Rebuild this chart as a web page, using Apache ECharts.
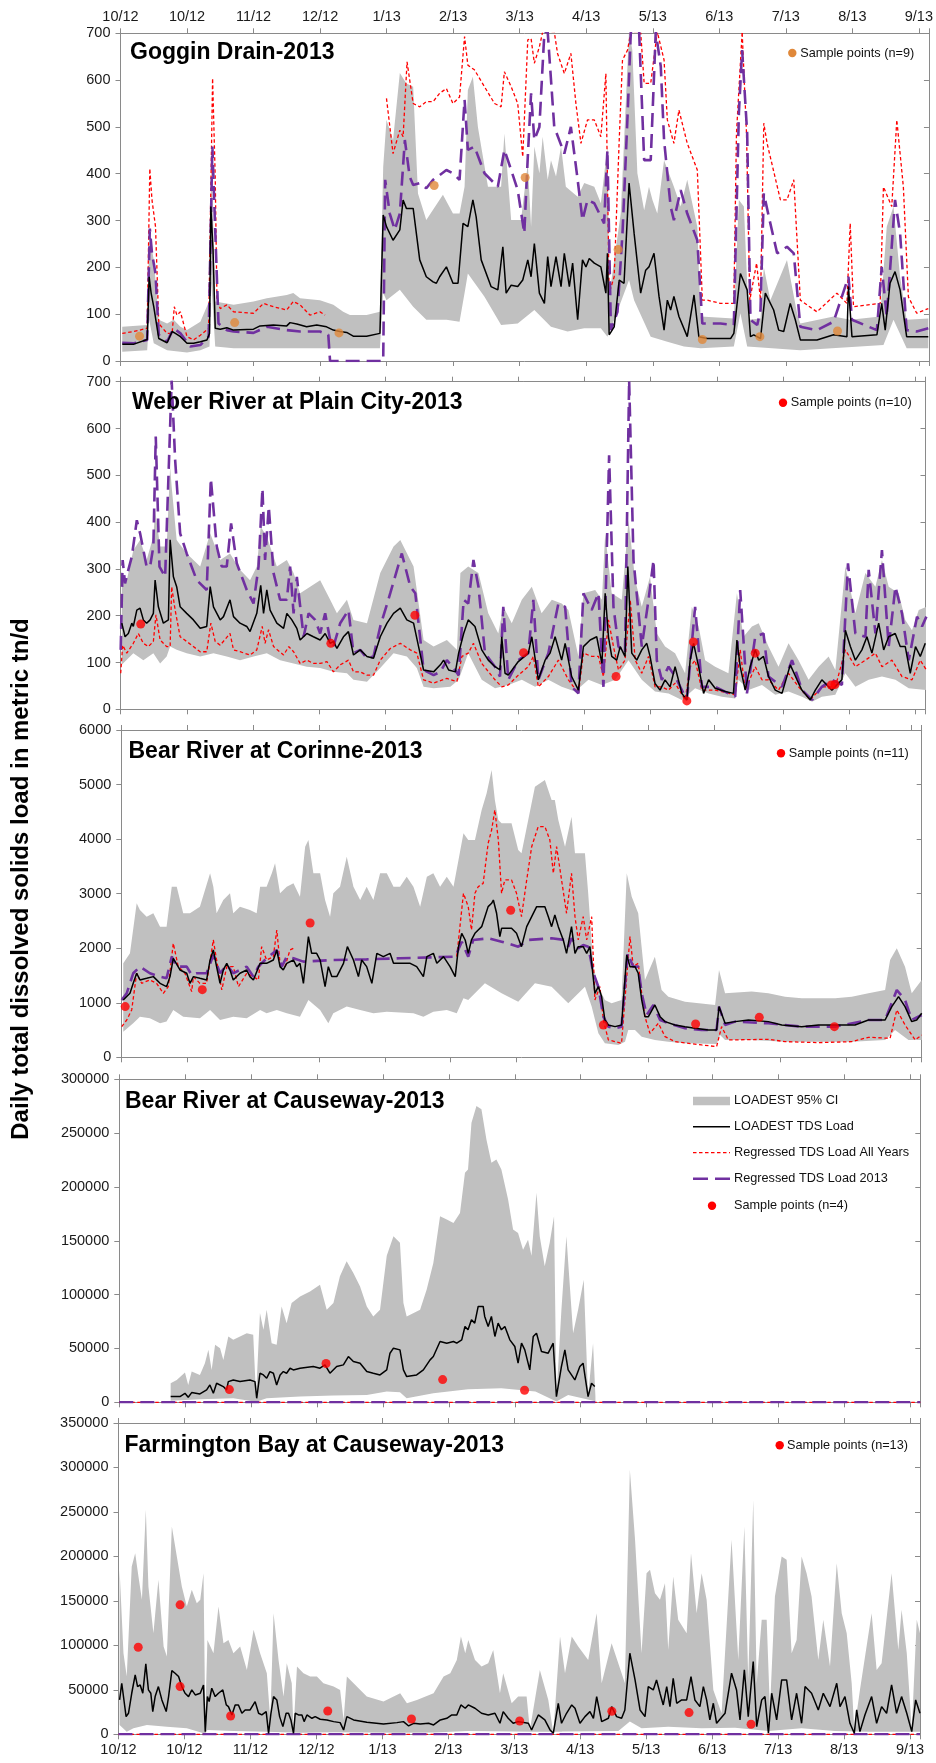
<!DOCTYPE html>
<html><head><meta charset="utf-8">
<script src="https://cdn.jsdelivr.net/npm/echarts@6/dist/echarts.min.js"></script>
<style>html,body{margin:0;padding:0;background:#fff}#chart{width:936px;height:1763px}</style>
</head><body><div id="chart"></div><script>
// ---------- tick labels ----------
const monthTicks = ['10/12','10/12','11/12','12/12','1/13','2/13','3/13','4/13','5/13','6/13','7/13','8/13','9/13'];
const DAYS_PER_TICK = 365 / 12;
const X_MAX = 369.6;

// ---------- Goggin Drain ----------
const gogginUpper = [[0.8,73],[12.2,77],[13.1,273],[15.2,216],[17.5,88],[21.3,80],[24.3,88],[27.4,73],[30.4,66],[36.5,84],[40.7,130],[41.5,451],[43.3,127],[51.7,120],[60.8,127],[66.9,134],[76,141],[79,145],[82.1,134],[91.2,130],[97.3,120],[101.8,105],[104.9,98],[112.5,98],[118.6,105],[120.1,415],[121.6,515],[124.6,472],[127.7,615],[130.7,593],[133.8,586],[136,358],[139.8,301],[147.4,355],[152,315],[155,315],[157.3,372],[158.8,579],[161.1,607],[163.4,500],[168,372],[174,372],[175.5,486],[178.6,301],[183.1,301],[186.2,422],[187.7,287],[189.2,458],[191.5,401],[193,479],[195.3,387],[196.8,429],[199.1,394],[201.4,458],[203.6,372],[209,351],[212,380],[216.6,372],[219.6,337],[222.6,458],[223.4,137],[225.7,216],[228.7,315],[231,550],[232.5,707],[234,664],[236.3,401],[239.4,322],[241.6,372],[243.2,344],[245.4,315],[248.5,429],[253,372],[256.1,330],[259.1,387],[263.7,287],[265.2,95],[280.4,91],[282.7,344],[285,330],[287.2,88],[292.6,91],[294.1,201],[297.1,130],[304.7,216],[309.3,102],[310.8,80],[326,95],[333.6,88],[347.3,95],[350.3,287],[353.4,330],[356.4,180],[359.4,88],[369.3,91]];
const gogginLower = [[0.8,20],[12.2,23],[13.1,88],[15.2,38],[21.3,23],[30.4,18],[36.5,23],[40.7,31],[41.5,166],[43.3,31],[51.7,27],[118.6,27],[120.1,145],[121.6,130],[127.7,152],[133.8,116],[139.8,88],[149,88],[155,84],[157.3,145],[158.8,187],[166.4,137],[174,77],[181.6,80],[189.2,109],[196.8,73],[204.4,63],[212,70],[219.6,70],[222.6,52],[225.7,88],[232.5,173],[234.8,130],[242.4,52],[250,41],[257.6,31],[265.2,27],[280.4,31],[283.4,102],[286.5,31],[310.8,23],[348.8,34],[353.4,88],[359.4,27],[369.3,27]];
const gogginLoad = [[0.8,36],[6.1,36],[12.2,46],[13.1,180],[14,145],[15.2,116],[17.5,48],[21.3,39],[23.6,63],[25.1,59],[25.8,63],[27.4,52],[30.4,38],[33.4,38],[36.5,41],[39.5,45],[40.7,59],[41.3,330],[42.3,237],[43.3,70],[45.6,68],[48.6,71],[51.7,66],[60.8,68],[63.8,75],[69.9,77],[76,75],[77.5,82],[80.6,79],[85.1,73],[89.7,77],[94.2,73],[97.3,66],[100.3,63],[103.4,61],[106.4,53],[112.5,53],[118.6,59],[120.1,312],[121.6,287],[124.6,258],[127.7,280],[129.2,344],[130.7,326],[133.8,326],[136.8,216],[139.8,180],[142.9,169],[144.4,166],[145.9,180],[149,201],[152,166],[154.3,166],[156.6,294],[158.8,287],[161.1,344],[162.6,308],[164.9,216],[169.4,159],[172.5,152],[174.8,244],[176.3,145],[178.6,162],[181.6,159],[183.9,173],[186.2,216],[187.7,180],[189.2,251],[191.5,145],[193.8,123],[195.3,223],[196.8,159],[199.1,223],[201.4,159],[202.9,230],[205.2,159],[206.7,209],[209,88],[211.2,216],[212.8,201],[214.3,219],[216.6,209],[219.6,201],[221.9,145],[222.6,230],[223.4,56],[225.7,73],[228,173],[230.2,166],[232.5,380],[234.8,273],[237.8,145],[240.1,194],[241.6,201],[243.9,230],[246.2,138],[248.5,66],[250,130],[251.5,109],[253,138],[255.3,95],[259.1,52],[262.2,141],[264.4,52],[268.2,48],[274.3,48],[278.9,48],[280.4,59],[283.4,187],[286.5,152],[288,52],[289.5,56],[292.6,48],[294.8,145],[298.6,109],[300.9,66],[303.2,63],[306.2,123],[308.5,88],[310.8,45],[318.4,45],[326,56],[332.1,52],[332.8,159],[334.4,52],[345.8,56],[348,123],[349.6,66],[351.8,166],[354.1,191],[356.4,152],[359.4,52],[365.5,52],[369.3,52]];
const gogginRegAll = [[0.8,59],[6.1,63],[12.2,70],[13.4,411],[14.4,344],[16,287],[17.5,80],[21.3,59],[23.6,59],[24.6,116],[25.8,98],[27.4,105],[30.4,52],[33.4,45],[36.5,55],[40.3,70],[42.1,604],[43.3,394],[44.1,130],[45.6,112],[48.6,120],[51.7,105],[60.8,102],[65.4,123],[69.9,116],[76,109],[79,127],[82.1,120],[86.6,98],[91.2,105],[93.5,98],[94,null],[121.6,561],[124.6,443],[127.7,493],[129.2,479],[131,639],[133.8,550],[136.8,543],[139.8,554],[142.9,554],[145.9,572],[149,582],[152,550],[155,564],[157.3,693],[158.8,632],[161.8,622],[166.4,586],[171,550],[174,543],[175.5,618],[178.6,586],[181.6,550],[183.9,436],[186.2,686],[187.7,689],[189.2,636],[191.5,671],[193,703],[198.3,703],[199.8,657],[202.9,614],[205.9,657],[208.2,550],[210.5,465],[213.5,515],[216.6,515],[219.6,479],[221.9,614],[223.4,145],[225.7,180],[228,472],[229.5,643],[231.8,664],[233.3,703],[237.8,703],[239.4,593],[242.4,593],[245.4,703],[248.5,643],[250,515],[253,465],[255.3,536],[259.1,465],[263.7,408],[266,130],[268.2,130],[274.3,123],[280.4,123],[281.6,486],[284.2,703],[286.2,486],[287.7,130],[290.8,209],[292.6,130],[294.1,508],[295.6,465],[301.7,344],[304.7,344],[307.8,387],[310.8,130],[318.4,105],[327.5,145],[332.1,123],[333.6,294],[335.1,116],[347.3,123],[348.8,372],[352.6,330],[354.9,515],[357.9,372],[360.2,137],[364,102],[369.3,112]];
const gogginReg2013 = [[0.8,39],[6.1,38],[12.2,45],[13.4,283],[14.4,230],[16,187],[17.5,56],[21.3,41],[24.3,70],[27.4,59],[31.9,31],[36.5,34],[40.3,52],[42,458],[43.3,280],[44.8,80],[48.6,66],[51.7,63],[60.8,60],[66.9,73],[76,66],[82.1,63],[91.2,63],[95,56],[95.8,0],[120.1,0],[121,387],[123.1,315],[125.4,280],[127.7,315],[130,472],[132.2,394],[133.8,376],[136.8,380],[139.8,369],[142.9,387],[145.9,397],[149,408],[152,401],[155,387],[157.3,558],[158.8,451],[161.8,458],[166.4,401],[172.5,372],[175.5,451],[178.6,408],[181.6,365],[184.6,273],[186.2,436],[187.7,572],[189.2,472],[191.5,500],[193.8,703],[195.3,703],[198.3,500],[202.9,443],[205.9,500],[209,387],[211.2,301],[213.5,344],[216.6,337],[221.1,294],[222.6,451],[224.2,66],[227.2,105],[229.5,273],[231.8,522],[233.3,703],[237.1,703],[239.4,429],[242.4,429],[244.7,703],[247,629],[248.5,472],[251.5,330],[253,301],[256.1,365],[259.1,315],[263.7,258],[266,80],[274.3,80],[280.4,77],[282.7,529],[284.2,664],[286.5,486],[288,88],[291.1,77],[292.6,109],[294.1,358],[296.4,308],[300.2,230],[304.7,244],[307.8,230],[310.8,73],[318.4,66],[326,84],[332.8,180],[334.4,88],[345.8,66],[348,201],[350.3,95],[354.1,344],[356.4,273],[359.4,66],[364,63],[369.3,70]];
const gogginSamples = [[8.7,53],[52.2,82],[99.9,60],[143.4,375],[185,392],[227.5,238],[266,46],[292.3,52],[327.8,64]];

// ---------- Weber River ----------
const weberUpper = [[0.5,291],[2.8,276],[5.8,340],[8.9,362],[11.9,319],[15,369],[15.8,426],[18.1,348],[21.1,348],[22.7,518],[23.4,476],[25.7,362],[30.3,333],[36.5,305],[41.1,376],[45.7,319],[50.2,333],[54.8,298],[59.4,276],[62.5,305],[64.3,390],[67.1,369],[71.7,305],[76.3,319],[79.4,291],[82.4,248],[87,262],[91.6,276],[96.2,234],[99.3,205],[103.9,234],[106.9,191],[113.1,184],[119.2,291],[125.3,348],[128.4,362],[134.5,305],[139.1,148],[143.7,134],[149.8,148],[154.4,127],[156,291],[159.6,305],[164.3,291],[168.8,205],[173.4,162],[175.7,219],[179.6,184],[184.2,234],[188.8,262],[193.3,205],[198,234],[202.5,226],[205.6,212],[210.2,113],[212.5,248],[217.9,255],[221,234],[222.5,376],[225.5,248],[230.1,234],[233.2,404],[236.3,276],[239.3,219],[243.1,283],[246.2,162],[250,134],[254.6,120],[259.2,77],[262.3,219],[265.4,177],[268.4,105],[273,91],[279.1,77],[283,248],[286,155],[289.9,177],[293,184],[297.5,134],[302.1,91],[306.7,141],[311.3,105],[315.9,63],[320.5,91],[325.1,113],[328.2,84],[332.8,305],[337.4,205],[342,291],[346.6,262],[349.6,319],[352.7,262],[357.3,248],[360.3,191],[363.4,169],[366.5,212],[370,219]];
const weberLower = [[0.5,95],[5.8,120],[10.4,105],[15,120],[18.1,98],[21.1,113],[22.7,134],[25.7,127],[30.3,120],[36.5,113],[42.6,120],[48.7,113],[54.8,105],[61,113],[67.1,120],[73.2,105],[79.4,98],[85.5,91],[91.6,88],[97.7,80],[103.9,77],[106.9,63],[113.1,59],[119.2,88],[125.3,120],[131.4,113],[136,88],[139.1,48],[143.7,45],[151.4,48],[155.2,63],[159.6,120],[165.8,63],[171.9,45],[178,52],[184.2,63],[190.3,48],[196.4,63],[202.5,48],[208.7,38],[214.8,63],[221,52],[227.1,63],[233.2,105],[239.3,63],[245.4,38],[251.6,34],[257.7,20],[263.8,45],[270,34],[276.1,27],[282.2,23],[283.7,63],[288.3,41],[294.5,52],[300.6,31],[306.7,38],[312.9,27],[317.5,16],[322,27],[328.2,31],[332.8,77],[337.4,48],[343.5,63],[349.6,70],[355.8,63],[361.9,45],[370,41]];
const weberLoad = [[0.5,184],[2,155],[3.5,162],[5.1,184],[5.8,177],[7.4,212],[8.9,216],[10.4,191],[11.9,184],[13.5,191],[15,205],[15.8,276],[17.3,219],[19.6,184],[21.9,191],[22.7,362],[24.2,283],[25.7,262],[27.3,219],[30.3,205],[33.4,191],[36.5,173],[39.5,177],[41.1,262],[42.6,219],[45.7,191],[47.2,198],[50.2,234],[51.8,198],[54.8,184],[57.9,177],[59.4,166],[62.5,205],[64.3,265],[65.6,205],[67.1,255],[68.6,212],[71.7,184],[74.8,173],[76.3,205],[78.6,191],[80.9,173],[82.4,148],[85.5,162],[88.5,155],[91.6,148],[93.9,162],[96.2,141],[97.7,145],[99.3,130],[102.3,155],[104.6,166],[106.9,116],[110,127],[113.1,113],[116.1,109],[119.2,155],[122.3,184],[125.3,205],[128.4,216],[131.4,191],[134.5,184],[136.8,134],[139.1,84],[143.7,80],[146.8,95],[148.3,105],[150.6,84],[153.7,80],[155.2,120],[157.5,162],[159.6,191],[162.7,177],[165.8,127],[168.8,105],[171.9,91],[174.2,84],[175,155],[176.5,77],[178,73],[182.6,102],[187.2,120],[188.8,155],[191.8,63],[194.9,105],[197.2,120],[199.5,155],[202.5,105],[204.1,141],[207.1,70],[210.2,41],[212.5,134],[215.6,148],[218.6,155],[221,98],[222.5,248],[224,155],[225.5,113],[227.8,105],[229.4,134],[231.6,113],[232.9,305],[234.7,120],[237,105],[239.3,127],[241.6,141],[243.1,113],[245.4,55],[247.7,41],[250,63],[252.3,48],[254.6,91],[257.7,34],[260,20],[261.5,105],[263.1,141],[265.4,91],[267.7,34],[270,63],[273,45],[277.6,38],[281.4,34],[283,148],[284.5,91],[286.8,41],[289.1,91],[291.4,127],[293,105],[295.2,113],[297.5,70],[300.6,41],[303.7,34],[307.5,95],[310.6,63],[312.8,41],[316.7,20],[319,41],[322,63],[324.3,52],[326.6,41],[331.2,63],[332.8,169],[335.1,134],[337.4,105],[340.4,127],[342.7,155],[345,120],[348.1,184],[350.4,127],[352.7,155],[355.7,162],[358,134],[360.3,134],[362.6,77],[365,134],[367.2,113],[369.5,141]];
const weberRegAll = [[0,77],[0.9,137],[2.8,120],[5.8,141],[8.1,162],[10.4,141],[12.7,134],[15,145],[16.2,202],[18.1,148],[21.1,134],[22.7,134],[23.4,262],[25,212],[27.3,155],[30.3,145],[36.5,123],[39.5,123],[41.4,184],[43.4,145],[45.7,137],[50.2,162],[51.8,127],[54.8,123],[59.4,116],[62.5,127],[65,177],[66.3,141],[67.9,170],[70.2,134],[74.8,116],[77.2,134],[79.4,123],[82.4,98],[85.5,105],[88.5,98],[91.6,98],[94.7,102],[97.7,80],[100.8,95],[104.6,105],[106.9,80],[110,80],[113.1,73],[116.1,73],[119.2,105],[123.8,130],[128.4,141],[133,127],[136,120],[139.1,63],[143.7,56],[149.8,66],[154.4,59],[156.7,113],[159.6,120],[162,141],[165.8,98],[171.9,63],[175,48],[178,52],[182.6,73],[187.2,91],[189.5,113],[191.8,48],[196.4,70],[201,105],[205.6,63],[210.2,34],[212.5,120],[216.3,113],[219.4,113],[221.7,70],[224,191],[226.3,134],[228.6,84],[231.6,105],[234,234],[236.3,105],[239.3,77],[242.4,113],[245.4,48],[248.5,48],[251.6,41],[254.6,56],[259.2,20],[261.5,91],[263.8,105],[266.9,41],[273,41],[282.2,31],[284.5,127],[286.8,41],[291.4,91],[294.5,63],[297.5,63],[302.1,41],[306.7,77],[311.3,48],[316.7,20],[322,48],[328.2,48],[332.8,127],[337.4,91],[342,105],[346.6,120],[349.6,91],[354.2,105],[358.8,70],[363.4,63],[367.2,105],[370,84]];
const weberReg2013 = [[0,127],[0.9,319],[2,269],[3.5,298],[5.1,326],[7.4,404],[8.9,376],[11.9,305],[13.5,305],[15,348],[16.1,583],[17.8,305],[20.4,283],[22.7,604],[23.4,703],[24.2,703],[25,533],[27.3,376],[30.3,333],[34.9,276],[39.5,255],[41.4,493],[44.1,348],[46.4,305],[48.7,305],[50.7,397],[53.3,312],[57.9,255],[61,226],[63.3,305],[65.1,472],[66.3,319],[68,433],[70.2,291],[73.2,234],[76.3,234],[77.8,305],[79.4,205],[80.9,283],[84,155],[86.3,205],[89.3,191],[91.6,162],[93.9,205],[96.2,148],[97.7,134],[100.8,184],[104.6,212],[106.9,120],[110,127],[113.1,109],[116.1,113],[119.2,177],[123.8,248],[129.1,333],[133,262],[135.3,248],[139.1,84],[143.7,73],[146.8,80],[149.8,105],[152.9,88],[155.2,73],[157.5,234],[159.6,226],[162,319],[164.3,262],[167.3,120],[171.9,91],[174.2,70],[175.7,219],[178,63],[182.6,105],[187.2,120],[189.5,234],[191.8,63],[196.4,120],[201,226],[204.1,219],[207.1,48],[210.2,34],[212.5,248],[216.3,212],[219.4,248],[221.7,48],[224.3,543],[226.3,219],[228.6,134],[231.6,120],[233.5,703],[234.4,703],[235.5,319],[239.3,134],[242.4,234],[244.7,319],[246.2,105],[248.5,63],[251.6,91],[254.6,70],[260,20],[263.8,219],[266.9,48],[273,48],[282.2,27],[284.5,255],[287.6,34],[291.4,155],[295.2,162],[297.5,70],[303.7,48],[308.3,105],[312.9,41],[317.5,20],[322,48],[326.6,63],[331.2,52],[334,312],[337.4,162],[342,155],[343.5,298],[346.6,162],[349.6,340],[352.7,134],[355.8,262],[358.8,205],[361.9,105],[365.7,198],[368,177],[370,198]];
const weberSamples = [[9.2,182],[96.5,141],[135.1,201],[185,121],[227.5,70],[260,18],[263,144],[291.4,120],[326.3,52],[328,53]];

// ---------- Bear River at Corinne ----------
const corinneUpper = [[0.9,1723],[4,1906],[7.1,2823],[8.6,2701],[11.7,2578],[14.8,2640],[17.9,2395],[20.9,2395],[23.3,3128],[25.6,3128],[28.6,2640],[31.7,2640],[36.3,2762],[41,3373],[42.5,3128],[44,2640],[47.1,2884],[50.2,3006],[51.7,2640],[54.8,2762],[59.4,2701],[62.5,2640],[64.1,3128],[67.1,3128],[69.5,3373],[71,3556],[73.3,3006],[76.4,3128],[79.5,3189],[82.5,2945],[84.9,3861],[86.4,3984],[88.7,3373],[91.8,3373],[94.1,2884],[96.4,2578],[97.9,3006],[101,3128],[104.1,3678],[107.2,3128],[110.3,2884],[113.3,3128],[116.4,2884],[119.5,3373],[122.6,3373],[125.7,3128],[128.7,3128],[131.8,3312],[134.9,3128],[138,2762],[141.1,3312],[144.1,3373],[147.2,3128],[150.3,3312],[153.4,3128],[155.7,3617],[158,4106],[160.2,3984],[163.3,3984],[166.4,4534],[168.7,4839],[171,5267],[172.5,4717],[174.1,4350],[175.6,4289],[180.2,4289],[183.3,3800],[184.8,3739],[187.9,4350],[191,4961],[195.6,5084],[198.7,4717],[200.2,4717],[201.8,4350],[204.9,3861],[207.9,4411],[209.5,3739],[214.1,3739],[215.6,3006],[218,1662],[220.3,1295],[223.3,1051],[226.4,990],[231,1051],[233.4,3373],[235.7,2945],[238.7,2640],[241.8,1418],[246.4,1845],[249.5,1234],[252.6,1112],[260.3,1020],[274.2,959],[276,1601],[278.8,1173],[291.1,1204],[298.8,1173],[306.5,1112],[314.2,1082],[329.6,1082],[337.3,1112],[345,1173],[352.7,1234],[355,1784],[358.1,1998],[361.9,1662],[365,1173],[369.6,1418]];
const corinneLower = [[0.9,470],[5.5,623],[8.6,745],[13.2,715],[17.9,623],[20.9,654],[24,868],[28.6,745],[36.3,715],[41,868],[45.6,684],[51.7,745],[57.9,715],[64.1,868],[67.1,807],[71.8,868],[76.4,807],[82.5,745],[86.4,1051],[91.8,868],[95.6,623],[97.9,807],[104.1,929],[110.3,868],[116.4,807],[122.6,837],[134.9,807],[139.5,745],[144.1,837],[150.3,868],[154.9,807],[158,1082],[160.2,1051],[167.9,1356],[175.6,1173],[183.3,1020],[191,1356],[198.7,1295],[206.4,990],[214.1,1295],[217.2,929],[220.3,440],[223.3,257],[229.5,226],[232.6,287],[234.1,501],[237.2,501],[240.3,379],[246.4,318],[252.6,287],[260.3,257],[274.9,244],[276.5,409],[278.8,318],[291.1,318],[306.5,287],[337.3,287],[352.7,318],[357.3,501],[363.5,318],[369.6,318]];
const corinneLoad = [[0.9,1051],[4,1173],[5.5,1356],[7.1,1540],[8.6,1418],[11.7,1448],[14.8,1479],[17.9,1356],[20.9,1295],[22.5,1479],[24,1815],[27.1,1601],[30.2,1540],[31.7,1356],[33.3,1479],[36.3,1448],[39.4,1418],[41,1784],[42.5,1967],[44,1662],[45.6,1356],[47.1,1601],[48.7,1723],[50.2,1601],[51.7,1418],[54.8,1540],[57.9,1601],[59.4,1479],[61,1418],[64.1,1723],[67.1,1723],[70.2,1784],[71.8,1967],[73.3,1662],[74.8,1601],[76.4,1723],[79.5,1784],[81,1662],[82.5,1723],[84.1,1356],[86.4,2212],[87.9,1906],[90.2,1906],[91.8,1784],[94.1,1295],[95.6,1662],[97.2,1479],[99.5,1479],[102.6,1723],[104.4,2028],[107.2,1784],[109.5,1479],[111,1784],[113.3,1662],[115.7,1356],[118,1906],[121,1845],[124.1,1906],[125.7,1723],[133.4,1723],[136.4,1662],[139.5,1479],[141.1,1845],[144.1,1906],[145.7,1723],[148.8,1845],[151.8,1662],[154.2,1479],[155.7,2028],[157.2,2273],[158.8,2150],[160.2,1906],[161.7,2151],[163.3,2273],[164.8,2334],[166.4,2395],[167.9,2578],[169.4,2762],[171,2823],[171.8,2884],[173.3,2640],[174.8,2212],[175.6,2365],[180.2,2365],[182.5,2273],[184.8,2028],[187.2,2395],[189.5,2578],[191.8,2762],[195.6,2762],[197.2,2578],[198.7,2395],[200.2,2609],[201.8,2395],[204.1,2151],[205.6,1906],[207.9,2395],[209.5,1906],[211,2028],[213.3,2028],[214.9,1906],[216.4,2028],[218.7,1173],[220.3,1295],[221.8,1112],[223.3,684],[224.9,593],[228,562],[231,593],[233.4,1876],[234.9,1662],[237.2,1662],[238.7,1540],[240.3,1051],[241.8,745],[243.4,745],[246.4,959],[248.8,745],[251.1,654],[255.7,593],[260.3,562],[264.9,532],[271.1,501],[274.9,501],[276,929],[278.8,623],[283.4,654],[289.6,684],[298.8,654],[305,593],[314.2,562],[321.9,593],[338.8,593],[345,684],[352.7,684],[355.8,929],[358.9,1112],[361.9,929],[365,654],[367.3,684],[369.6,807]];
const corinneRegAll = [[0.2,562],[2.5,684],[4.8,868],[7.1,1540],[9.4,1356],[13.2,1418],[16.3,1356],[19.4,1173],[21.7,1295],[24,2090],[26.3,1662],[29.4,1540],[32.5,1204],[33.3,1479],[36.3,1356],[39.4,1356],[42.5,2151],[44,1784],[46.4,1234],[48.7,1662],[51.7,1662],[54.1,1295],[57.9,1540],[61,1479],[63.3,1418],[64.8,2028],[67.1,1784],[70.2,1845],[71.8,2334],[73.3,1723],[75.6,1662],[77.9,1967],[79.5,1998],[80,null],[154.9,1845],[158,3006],[160.2,2762],[161.7,2334],[163.3,3006],[164.8,3128],[167.1,3189],[169.4,3922],[171,4167],[172.5,4534],[174.1,3984],[175.6,3006],[177.1,3251],[180.2,3251],[182.5,3006],[184.8,2578],[187.2,3251],[189.5,3861],[192.5,4228],[195.6,4228],[197.9,3984],[199.5,3373],[201,3861],[203.3,3251],[205.6,2640],[207.9,3373],[209.5,2578],[211,2151],[213.3,2578],[214.9,2151],[217.2,2578],[218.7,1051],[221,1295],[222.6,684],[224.9,318],[231,257],[233.4,1479],[234.9,2212],[236.4,1662],[238.7,1723],[240.3,1173],[241.8,745],[244.1,440],[248,623],[251.1,379],[255.7,287],[268,226],[274.9,196],[277.2,562],[280.3,318],[298.8,330],[306.5,287],[321.9,269],[337.3,287],[345,367],[355,348],[358.1,868],[361.9,593],[366.6,318],[369.6,409]];
const corinneReg2013 = [[0.2,1051],[2.5,1173],[5.5,1540],[8.6,1662],[13.2,1540],[17.9,1479],[20.9,1448],[23.3,1845],[25.6,1662],[30.2,1662],[32.5,1509],[34.8,1540],[39.4,1540],[42.5,1876],[45.6,1540],[48.7,1692],[51.7,1540],[57.9,1662],[61,1479],[63.3,1662],[67.1,1815],[71.8,1967],[74.1,1662],[76.4,1845],[79.5,1815],[84.1,1754],[97.9,1784],[113.3,1796],[128.7,1815],[144.1,1833],[154.2,1845],[157.2,2120],[160.2,1845],[162.5,2151],[169.4,2181],[175.6,2120],[183.3,2028],[187.9,2151],[198.7,2181],[204.9,2151],[206.4,2028],[207.9,2181],[211,1998],[213.3,2059],[215.6,2028],[218,1540],[220.3,1295],[222.6,745],[224.9,562],[228,532],[231,562],[233.8,1906],[236.4,1662],[238.7,1662],[240.3,1173],[242.6,776],[245.7,959],[248.8,684],[252.6,623],[260.3,532],[268,501],[274.9,501],[276,929],[278.8,593],[283.4,654],[298.8,623],[314.2,562],[329.6,562],[345,684],[352.7,684],[358.1,1234],[361.9,1051],[365,684],[369.6,776]];
const corinneSamples = [[1.8,929],[37.4,1240],[87.2,2462],[179.8,2695],[222.6,593],[265.2,611],[294.6,733],[329.3,562]];

// ---------- Bear River at Causeway ----------
const causewayUpper = [[23.7,17684],[26.5,20786],[30.3,27611],[31.8,16132],[33.4,28543],[37.2,25440],[39.5,36298],[41.1,48708],[42.6,30093],[44.2,53361],[46.5,50259],[48,39401],[50.3,61118],[52.6,58015],[55.7,61118],[58.8,64220],[61.8,62669],[63.1,5274],[64.9,82834],[66.5,67322],[68,85938],[70.3,54912],[72.6,53361],[74.9,89039],[77.2,73527],[79.5,92141],[83.4,98347],[88,102999],[92.6,109205],[95.7,85938],[98.8,92141],[101.8,116962],[104.9,130921],[108,120065],[111.1,107654],[114.2,89039],[117.2,79732],[120.3,85938],[123.4,136025],[126.5,154190],[129.5,148080],[131.1,92141],[132.6,79732],[138.8,85938],[141.8,104550],[144.9,129370],[148,172804],[151.1,169702],[154.2,166600],[157.2,175906],[159.5,213135],[160.9,216238],[162.5,259672],[164.8,275183],[167.1,272081],[169.4,244160],[171.7,222442],[174,225545],[176.3,216238],[179.4,188316],[181.7,160394],[184,157292],[186.3,141780],[188.6,151087],[190.2,136025],[192.5,194521],[194,154190],[196.3,126268],[198.6,148080],[200.6,172804],[201.7,5274],[204,85938],[206.3,154190],[209.4,64220],[211.7,85938],[214.3,113858],[216.3,5274],[218.6,54912],[219.7,5274]];
const causewayLower = [[23.7,1551],[37.2,2800],[52.6,3723],[63.1,500],[68,3723],[83.4,5274],[98.8,6205],[114.2,6825],[123.4,9928],[129.5,9307],[132.6,3723],[144.9,8377],[160.9,12099],[176.3,13030],[192,9928],[201.7,800],[207.1,6825],[219.7,1000]];
const causewayLoad = [[23.7,5274],[28,5274],[30.3,8377],[31.8,4654],[33.4,8997],[37.2,7756],[40.3,11479],[41.8,16132],[43.4,8377],[44.9,17684],[48,14581],[49.5,11479],[50.3,19235],[52.6,20786],[55.7,19235],[60.3,20786],[62.6,19235],[63.4,3723],[64.9,26991],[66.5,25440],[68,22337],[69.5,28543],[71.1,26991],[72.6,16132],[74.2,25440],[75.7,28543],[77.2,26991],[78.8,31644],[80.3,30093],[83.4,31644],[89.5,33196],[92.6,31644],[94.9,34747],[97.2,26991],[100.3,33196],[103.4,34747],[105.7,42503],[108,37850],[111.1,36298],[114.2,28543],[117.2,26991],[120.3,25440],[123.4,30093],[124.9,45605],[126.5,50259],[129.5,48708],[131.1,30093],[132.6,23889],[137.2,25440],[140.3,30093],[143.4,39401],[144.9,42503],[148,56463],[151.1,54912],[154.2,56463],[155.7,54912],[158,58015],[159.5,70425],[160.9,67322],[162.5,76629],[164,73527],[165.6,89039],[167.9,89039],[168.6,79732],[170.2,70425],[171.7,79732],[173.3,61118],[174.8,73527],[176.3,67322],[177.9,70425],[180.2,58015],[182.5,51810],[184,36298],[185.6,54912],[187.1,48708],[189.4,30093],[191,61118],[192.5,64220],[194.8,47157],[197.9,45605],[200.2,54912],[201.7,5274],[204,33196],[205.6,48708],[207.1,30093],[210.2,20786],[212.5,33196],[214,36298],[216.3,5274],[217.9,17684],[219.4,14581]];
const causewayRegAll = [[0,0],[369.6,0]];
const causewayReg2013 = [[0,0],[369.6,0]];
const causewaySamples = [[50.8,11789],[95.4,35988],[149.2,21096],[187,11169]];

// ---------- Farmington Bay ----------
const farmUpper = [[0.5,184939],[2.3,91157],[3.8,64898],[6.1,188690],[7.7,203695],[9.2,177436],[10.8,151177],[12.6,252462],[13.8,166182],[16.1,113664],[18.4,173685],[20.8,98659],[22.3,87405],[24.6,233705],[26.9,199944],[29.2,166182],[31.5,143674],[33.8,162431],[36.1,147426],[37.7,151177],[39.2,181188],[40,16131],[41,106161],[43.8,91157],[46.1,143674],[48.4,102410],[50.7,106161],[53,91157],[56.1,98659],[59.2,72400],[62.3,117415],[65.3,91157],[68.4,68648],[70,16131],[71.5,136172],[73.8,83654],[76.1,42389],[77.6,79902],[79.9,57395],[80.7,4877],[82.3,76151],[85.3,68648],[88.4,64898],[91.5,64898],[94.5,57395],[99.2,53643],[102.2,49892],[103.8,16131],[105.3,64898],[108.4,57395],[114.5,42389],[122.2,36762],[129.9,46140],[133,34887],[137.6,38638],[145.3,46140],[149.9,64898],[153,68648],[156,83654],[157.9,109913],[159.9,91157],[161.3,106161],[164.4,83654],[167.4,76151],[170.5,79902],[172.8,94908],[175.9,46140],[177.4,68648],[181.3,34887],[184.3,42389],[188.2,42389],[189.7,4877],[194.3,72400],[198.2,38638],[200.5,1125],[203.6,109913],[205.9,68648],[209,109913],[212,98659],[216.6,83654],[220.5,136172],[222.8,57395],[227.4,102410],[232,68648],[233.5,57395],[235.8,297478],[238.2,218702],[241.2,91157],[243.5,181188],[245.1,184939],[247.4,158679],[249.7,151177],[252,169934],[253.5,94908],[255.8,177436],[258.1,128670],[262,113664],[264,203695],[266.6,136172],[268.9,181188],[271.2,151177],[274.3,49892],[278.1,23633],[282.7,218702],[285.8,83654],[288.6,233705],[290.4,61146],[292.7,263716],[294.3,57395],[296.6,128670],[298.9,128670],[300.4,27384],[302.7,154928],[305.8,199944],[308.1,196193],[310.4,91157],[312.7,106161],[315,199944],[317.3,181188],[319.6,154928],[322.7,83654],[325,128670],[328.1,76151],[331.2,192442],[333.5,136172],[335.8,113664],[338.1,57395],[339.3,4877],[341.9,49892],[347.3,136172],[349.6,72400],[351.9,79902],[356.5,181188],[359.6,94908],[361.1,139923],[363.5,91157],[365.8,4877],[368.1,128670],[369.6,113664]];
const farmLower = [[0.5,10504],[3.8,3001],[6.9,6752],[13.1,10504],[22.3,8628],[31.5,6752],[40,500],[41,4877],[53,3751],[68.4,3001],[83.8,1876],[99.2,2251],[114.5,2000],[130,1800],[145.3,2000],[161.3,3751],[192,3000],[230.5,3751],[235.8,14255],[241.2,6752],[253.5,8628],[268.9,6752],[284.3,7503],[299.7,3751],[315,6752],[330.4,3751],[345.8,3000],[369.6,3000]];
const farmLoad = [[0.5,38638],[1.5,57395],[3.5,19882],[4.6,23633],[6.1,46140],[7.7,66773],[8.8,53643],[10,55519],[11.2,46140],[12.6,79152],[13.8,49892],[14.9,46140],[15.8,25509],[16.9,42389],[18.4,53643],[20,38638],[22,25509],[23.1,42389],[24.6,71649],[26.1,68648],[27.7,64898],[29.2,53643],[30.7,46140],[32.3,42389],[33.8,49892],[35.4,44265],[37.7,46140],[39.2,55519],[40,3001],[41,42389],[41.8,36762],[43,51768],[44.6,42389],[46.1,46140],[48.1,49892],[49.7,33011],[50.7,31135],[52.3,21757],[53.8,33011],[55.3,33011],[56.9,23633],[58.4,27384],[60.7,27384],[63,36762],[64.6,23633],[66.1,21757],[68.1,25509],[69.2,1125],[70.3,23633],[71.5,42389],[73,38638],[74.3,19882],[75.8,8628],[77.3,23633],[78.4,23633],[79.5,16131],[80.7,1125],[81.5,23633],[83,21757],[84.6,21757],[85.6,14255],[86.9,21757],[89.2,18006],[90.7,19882],[93,16881],[96.1,16131],[99.2,14255],[102.2,13129],[103.8,4877],[105.3,19882],[108.4,16131],[114.5,13505],[122.2,11629],[128.4,13129],[131.4,14255],[133.8,9378],[136.1,12379],[139.1,11629],[143,12379],[145.3,10504],[148.4,16131],[151.4,18006],[153.7,21757],[156,21757],[157.9,33011],[159.9,29260],[161.3,33011],[164.4,29260],[167.4,23633],[170.5,21757],[173.6,23633],[175.9,12379],[177.4,25509],[179.7,18006],[182,12379],[184.3,14255],[189,12379],[190.5,4877],[193.6,21757],[196.6,16131],[199,4877],[200.5,1125],[202.8,34887],[204.3,12379],[206.6,23633],[209,33011],[210.5,29260],[212.8,12379],[215.1,19882],[217.4,25509],[219,18006],[220.5,42389],[222.8,14255],[225.9,18006],[227.4,31135],[229.7,19882],[232,18006],[233.5,27384],[235.8,91157],[238.2,61146],[240.5,27384],[242.8,19882],[244.3,53643],[246.6,49892],[248.1,61146],[249.7,46140],[251.2,33011],[252.8,53643],[254.3,31135],[255.8,63022],[257.4,34887],[259.7,38638],[262,38638],[264,64898],[265.8,38638],[268.1,31135],[269.7,53643],[271.2,38638],[272.7,16131],[274.3,34887],[275.8,12379],[279.7,23633],[282.7,68648],[285,49892],[286.6,16131],[288.6,72400],[290.4,19882],[292.7,81778],[294.3,8628],[296.6,38638],[298.1,42389],[299.7,1125],[301.2,46140],[303.5,16131],[305.8,61146],[308.1,61146],[310.4,16131],[312.7,46140],[315,12379],[316.6,53643],[319.6,46140],[322.7,27384],[325,46140],[328.1,31135],[331.2,57395],[332.7,31135],[335,42389],[337.3,12379],[339.3,1125],[340.4,27384],[341.9,3001],[344.2,21757],[347.3,42389],[349.6,12379],[351.9,31135],[354.2,23633],[356.5,55519],[358.8,23633],[361.1,42389],[363.5,23633],[365.8,3001],[367.6,38638],[369.6,23633]];
const farmRegAll = [[0,0],[369.6,0]];
const farmReg2013 = [[0,0],[369.6,0]];
const farmSamples = [[9.1,97909],[28.4,145550],[28.4,53644],[51.7,20632],[96.5,26259],[135.1,17256],[185,15005],[227.5,25884],[263.1,24383],[291.7,11254]];

// ---------- panel definitions ----------
const panels = [
  {title:'Goggin Drain-2013', yMax:700, yInt:100, upper:gogginUpper, lower:gogginLower, load:gogginLoad, regAll:gogginRegAll, reg13:gogginReg2013, samples:gogginSamples, sampleLabel:'Sample points (n=9)'},
  {title:'Weber River at Plain City-2013', yMax:700, yInt:100, upper:weberUpper, lower:weberLower, load:weberLoad, regAll:weberRegAll, reg13:weberReg2013, samples:weberSamples, sampleLabel:'Sample points (n=10)'},
  {title:'Bear River at Corinne-2013', yMax:6000, yInt:1000, upper:corinneUpper, lower:corinneLower, load:corinneLoad, regAll:corinneRegAll, reg13:corinneReg2013, samples:corinneSamples, sampleLabel:'Sample points (n=11)'},
  {title:'Bear River at Causeway-2013', yMax:300000, yInt:50000, upper:causewayUpper, lower:causewayLower, load:causewayLoad, regAll:causewayRegAll, reg13:causewayReg2013, samples:causewaySamples, sampleLabel:'Sample points (n=4)'},
  {title:'Farmington Bay at Causeway-2013', yMax:350000, yInt:50000, upper:farmUpper, lower:farmLower, load:farmLoad, regAll:farmRegAll, reg13:farmReg2013, samples:farmSamples, sampleLabel:'Sample points (n=13)'}
];

// ---------- layout & style ----------
const FONT = '"Liberation Sans", Arial, Helvetica, sans-serif';
const AX = '#8a8a8a';
const GRAY = '#c0c0c0', RED = '#ff0000', PURPLE = '#7030a0';
const SAMPLE_COLORS = ['#e0883a', RED, RED, RED, RED];
const grids = [
  {left:120.5, top:33.3, width:809.5, height:327.7},
  {left:120.7, top:381.7, width:804.8, height:327.6},
  {left:121.3, top:730, width:800.4, height:327.3},
  {left:119.3, top:1079.3, width:801, height:323},
  {left:118.5, top:1423, width:801.5, height:311.3}
];
const titlePos = [[130,52.4],[132,402.2],[128.5,751.2],[125,1101.2],[124.5,1445.5]];
const legendPos = [[792.3,53,800.3],[783,402.7,790.7],[781,753.3,788.7],null,[779.7,1445.3,787]];

function tickLabel(v) {
  const i = Math.round(v / DAYS_PER_TICK);
  return Math.abs(v - i * DAYS_PER_TICK) < 0.5 && monthTicks[i] ? monthTicks[i] : '';
}
function plainNum(v) { return String(Math.round(v)); }
function toLine(arr) { return arr.map(p => p[1] === null ? [p[0], '-'] : p); }

const xAxes = [], yAxes = [], series = [], graphics = [];
panels.forEach((p, gi) => {
  const tick = {show:true, length:5, lineStyle:{color:AX, width:1}};
  const line = {show:true, onZero:false, lineStyle:{color:AX, width:1}};
  xAxes.push({type:'value', gridIndex:gi, position:'bottom', min:0, max:X_MAX, interval:DAYS_PER_TICK,
    axisLine:line, axisTick:Object.assign({inside:false}, tick), splitLine:{show:false},
    axisLabel:{show: gi === 4, formatter:tickLabel, fontFamily:FONT, fontSize:14.5, color:'#1a1a1a', margin:8, showMinLabel:true, showMaxLabel:true}});
  xAxes.push({type:'value', gridIndex:gi, position:'top', min:0, max:X_MAX, interval:DAYS_PER_TICK,
    axisLine:line, axisTick:Object.assign({inside:false}, tick), splitLine:{show:false},
    axisLabel:{show: gi === 0, formatter:tickLabel, fontFamily:FONT, fontSize:14.5, color:'#1a1a1a', margin:9, showMinLabel:true, showMaxLabel:true}});
  yAxes.push({type:'value', gridIndex:gi, position:'left', min:0, max:p.yMax, interval:p.yInt,
    axisLine:line, axisTick:Object.assign({inside:false}, tick), splitLine:{show:false},
    axisLabel:{formatter:plainNum, fontFamily:FONT, fontSize:14.5, color:'#1a1a1a', margin:10, showMinLabel:true, showMaxLabel:true}});
  yAxes.push({type:'value', gridIndex:gi, position:'right', min:0, max:p.yMax, interval:p.yInt,
    axisLine:line, axisTick:Object.assign({inside:true}, tick), splitLine:{show:false}, axisLabel:{show:false}});

  const xi = gi * 2, yi = gi * 2;
  const up = p.upper, lo = p.lower;
  series.push({type:'custom', xAxisIndex:xi, yAxisIndex:yi, clip:true, silent:true, z:1, data:[[0,0]],
    renderItem: function (params, api) {
      const pts = up.map(q => api.coord(q)).concat(lo.slice().reverse().map(q => api.coord(q)));
      return {type:'polygon', shape:{points:pts}, style:{fill:GRAY}};
    }});
  series.push({type:'line', xAxisIndex:xi, yAxisIndex:yi, data:toLine(p.regAll), showSymbol:false, symbol:'none', z:2, clip:true,
    lineStyle:{color:RED, width:1.3, type:[3.5,2.5]}, connectNulls:false});
  series.push({type:'line', xAxisIndex:xi, yAxisIndex:yi, data:toLine(p.reg13), showSymbol:false, symbol:'none', z:3, clip:true,
    lineStyle:{color:PURPLE, width:2.6, type:[14,7]}, connectNulls:false});
  series.push({type:'line', xAxisIndex:xi, yAxisIndex:yi, data:toLine(p.load), showSymbol:false, symbol:'none', z:4, clip:true,
    lineStyle:{color:'#000', width:1.5}});
  series.push({type:'scatter', xAxisIndex:xi, yAxisIndex:yi, data:p.samples, symbol:'circle', symbolSize:9, z:5,
    itemStyle:{color:SAMPLE_COLORS[gi]}});

  graphics.push({type:'text', x:titlePos[gi][0], y:titlePos[gi][1], z:100,
    style:{text:p.title, font:'bold 23px ' + FONT, fill:'#000', align:'left', verticalAlign:'middle'}});
  const lp = legendPos[gi];
  if (lp) {
    graphics.push({type:'circle', shape:{cx:lp[0], cy:lp[1], r:4.2}, z:100, style:{fill:SAMPLE_COLORS[gi]}});
    graphics.push({type:'text', x:lp[2], y:lp[1], z:100,
      style:{text:p.sampleLabel, font:'12.7px ' + FONT, fill:'#111', align:'left', verticalAlign:'middle'}});
  }
});

// full legend in the Bear River at Causeway panel
const legRows = [1100.9, 1126.7, 1152.7, 1178.7, 1205.7];
const legText = ['LOADEST 95% CI', 'LOADEST TDS Load', 'Regressed TDS Load All Years', 'Regressed TDS Load 2013', panels[3].sampleLabel];
graphics.push({type:'rect', shape:{x:693, y:1096.7, width:37, height:8.5}, z:100, style:{fill:GRAY}});
graphics.push({type:'line', shape:{x1:693, y1:legRows[1], x2:730, y2:legRows[1]}, z:100, style:{stroke:'#000', lineWidth:1.5}});
graphics.push({type:'line', shape:{x1:693, y1:legRows[2], x2:730, y2:legRows[2]}, z:100, style:{stroke:RED, lineWidth:1.3, lineDash:[3.5,2.5]}});
graphics.push({type:'line', shape:{x1:693, y1:legRows[3], x2:730, y2:legRows[3]}, z:100, style:{stroke:PURPLE, lineWidth:2.6, lineDash:[15,7]}});
graphics.push({type:'circle', shape:{cx:712, cy:legRows[4], r:4.2}, z:100, style:{fill:RED}});
legText.forEach((t, i) => graphics.push({type:'text', x:734, y:legRows[i], z:100,
  style:{text:t, font:'12.7px ' + FONT, fill:'#111', align:'left', verticalAlign:'middle'}}));

// y-axis title
graphics.push({type:'text', x:21, y:879, rotation:Math.PI / 2, z:100,
  style:{text:'Daily total dissolved solids load in metric tn/d', font:'bold 24px ' + FONT, fill:'#000', align:'center', verticalAlign:'middle'}});

const chart = echarts.init(document.getElementById('chart'), null, {renderer:'canvas'});
chart.setOption({
  animation:false,
  backgroundColor:'#fff',
  grid: grids.map(g => Object.assign({containLabel:false}, g)),
  xAxis: xAxes,
  yAxis: yAxes,
  series: series,
  graphic: graphics
});
</script></body></html>
